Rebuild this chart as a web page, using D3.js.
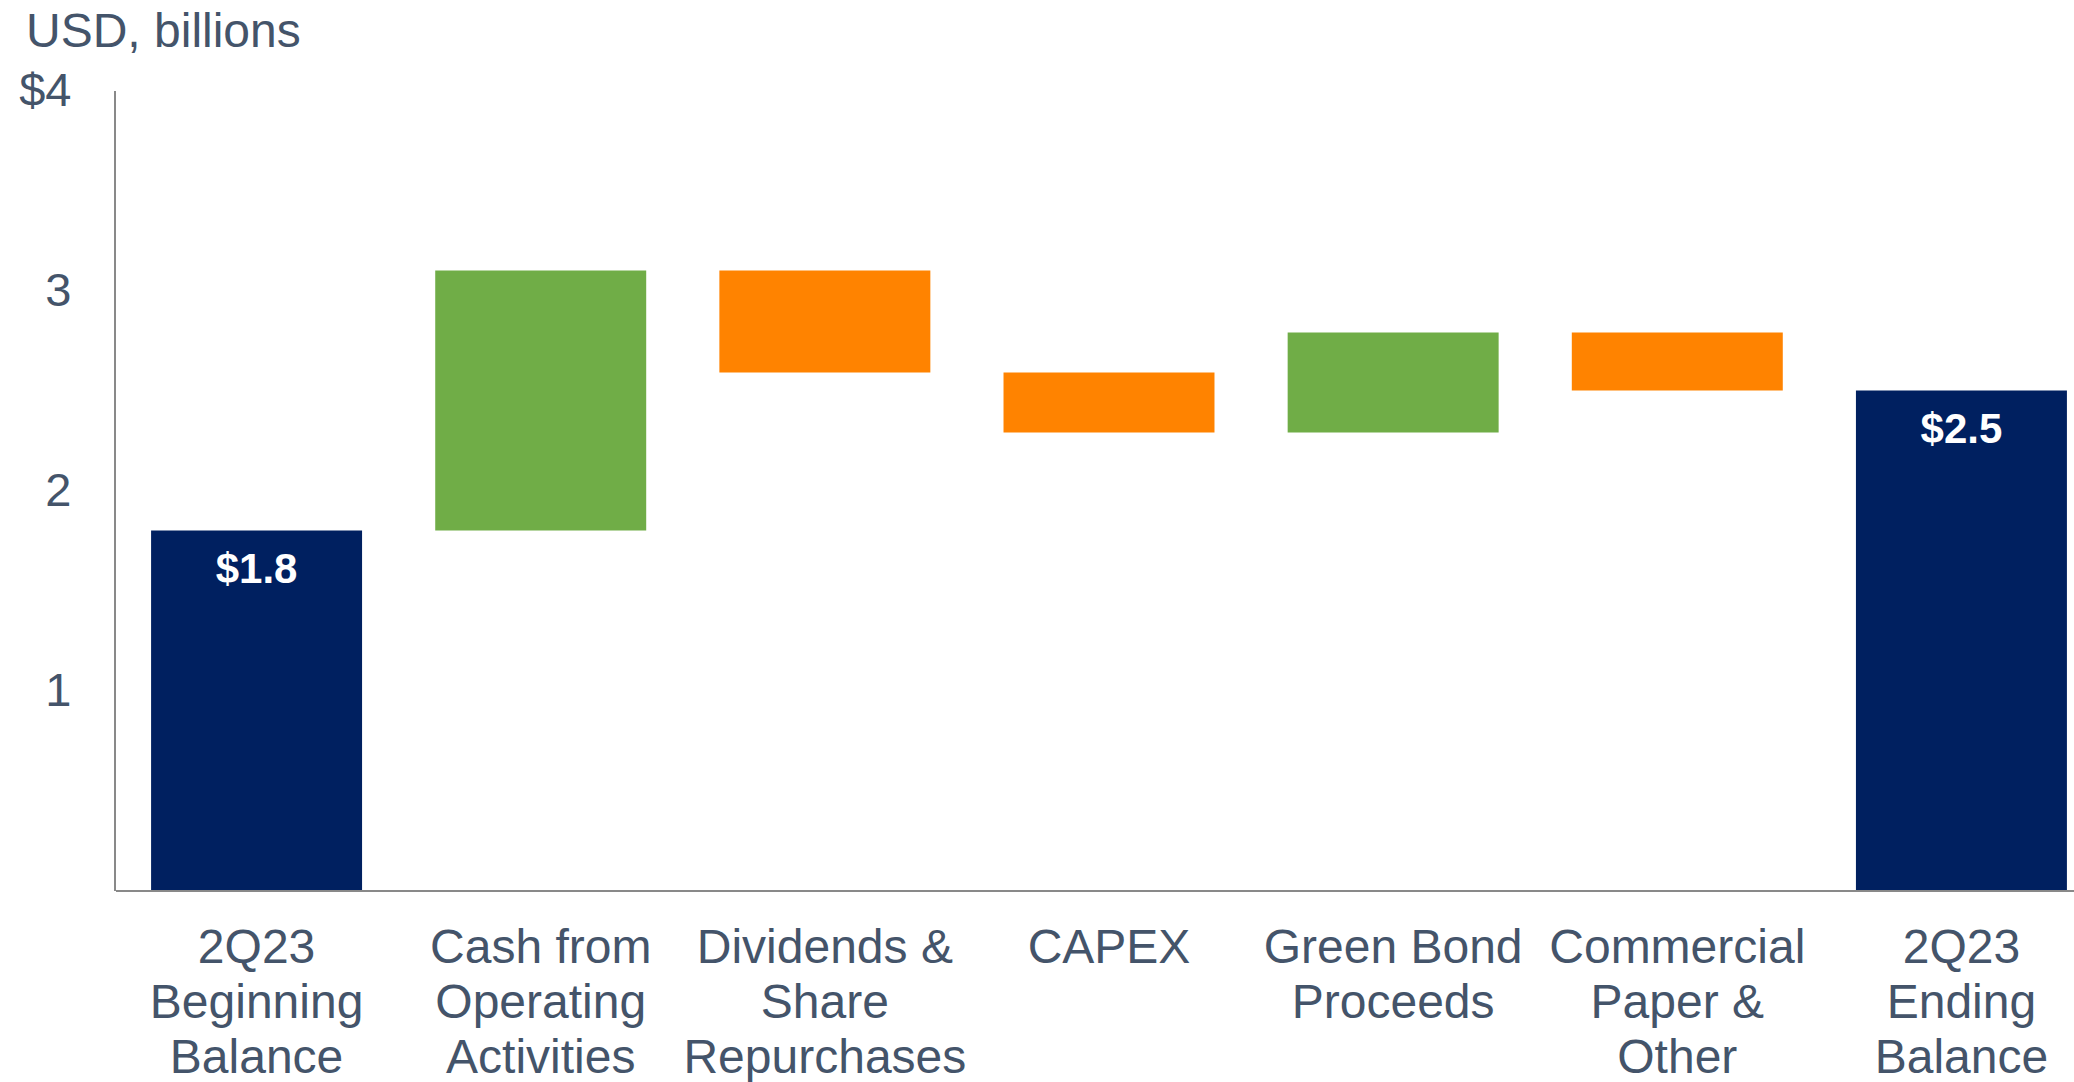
<!DOCTYPE html>
<html>
<head>
<meta charset="utf-8">
<script src="https://cdn.jsdelivr.net/npm/d3@7/dist/d3.min.js"></script>
<style>
  body { margin: 0; background: #fff; }
  svg { display: block; font-family: "Liberation Sans", Arial, sans-serif; }
  .axis path { stroke: #898989; stroke-width: 2; shape-rendering: crispEdges; }
  .axis text { fill: #44546A; font-size: 47px; }
  .x-axis text { font-size: 48px; }
  .title { fill: #44546A; font-size: 48px; }
  .total-label { fill: #fff; font-size: 42px; font-weight: bold; }
</style>
</head>
<body>
<div id="chart"></div>
<script>
// waterfall steps, USD billions
var categories = [
  ["2Q23", "Beginning", "Balance"],
  ["Cash from", "Operating", "Activities"],
  ["Dividends &", "Share", "Repurchases"],
  ["CAPEX"],
  ["Green Bond", "Proceeds"],
  ["Commercial", "Paper &", "Other"],
  ["2Q23", "Ending", "Balance"]
];
var steps = [1.8, 1.3, -0.51, -0.30, 0.50, -0.29, 2.5];
var stepKinds = ["total", "up", "down", "down", "up", "down", "total"];
var totalLabels = ["$1.8", "", "", "", "", "", "$2.5"];
var yTicks = [1, 2, 3, 4];
var yTickLabels = ["1", "2", "3", "$4"];

(function() {
  var width = 2074, height = 1082;
  var colors = { total: "#002060", up: "#70AD47", down: "#FF8300" };

  // running totals -> bar start/end
  var bars = [];
  var running = 0;
  for (var i = 0; i < steps.length; i++) {
    var from, to;
    if (stepKinds[i] === "total") {
      from = 0;
      to = steps[i];
      running = steps[i];
    } else {
      from = running;
      to = running + steps[i];
      running = to;
    }
    bars.push({ i: i, kind: stepKinds[i], lo: Math.min(from, to), hi: Math.max(from, to), label: totalLabels[i] });
  }

  var svg = d3.select("#chart").append("svg")
    .attr("width", width)
    .attr("height", height);

  var x = d3.scaleBand()
    .domain(d3.range(categories.length))
    .range([115, 2103])
    .paddingInner(0.2575)
    .paddingOuter(0.127);

  var y = d3.scaleLinear()
    .domain([0, 4])
    .range([890.5, 90.5]);

  svg.append("text")
    .attr("class", "title")
    .attr("x", 26)
    .attr("y", 47)
    .text("USD, billions");

  svg.selectAll("rect.bar")
    .data(bars)
    .enter().append("rect")
    .attr("class", "bar")
    .attr("x", function(d) { return x(d.i); })
    .attr("y", function(d) { return y(d.hi); })
    .attr("width", x.bandwidth())
    .attr("height", function(d) { return y(d.lo) - y(d.hi); })
    .attr("fill", function(d) { return colors[d.kind]; });

  svg.selectAll("text.total-label")
    .data(bars.filter(function(d) { return d.label; }))
    .enter().append("text")
    .attr("class", "total-label")
    .attr("text-anchor", "middle")
    .attr("x", function(d) { return x(d.i) + x.bandwidth() / 2; })
    .attr("y", function(d) { return y(d.hi) + 52; })
    .text(function(d) { return d.label; });

  var yAxis = d3.axisLeft(y)
    .tickValues(yTicks)
    .tickSize(0)
    .tickSizeOuter(0)
    .tickPadding(43)
    .tickFormat(function(d, n) { return yTickLabels[n]; });

  svg.append("g")
    .attr("class", "axis")
    .attr("transform", "translate(114.5,0)")
    .call(yAxis);

  var xAxis = d3.axisBottom(x)
    .tickSize(0)
    .tickSizeOuter(0)
    .tickFormat("");

  var gx = svg.append("g")
    .attr("class", "axis x-axis")
    .attr("transform", "translate(0," + y(0) + ")")
    .call(xAxis);

  gx.selectAll(".tick text").each(function(d) {
    var t = d3.select(this).attr("y", 72).attr("dy", 0);
    categories[d].forEach(function(line, k) {
      t.append("tspan")
        .attr("x", 0)
        .attr("dy", k === 0 ? 0 : 55)
        .text(line);
    });
  });
})();
</script>
</body>
</html>
